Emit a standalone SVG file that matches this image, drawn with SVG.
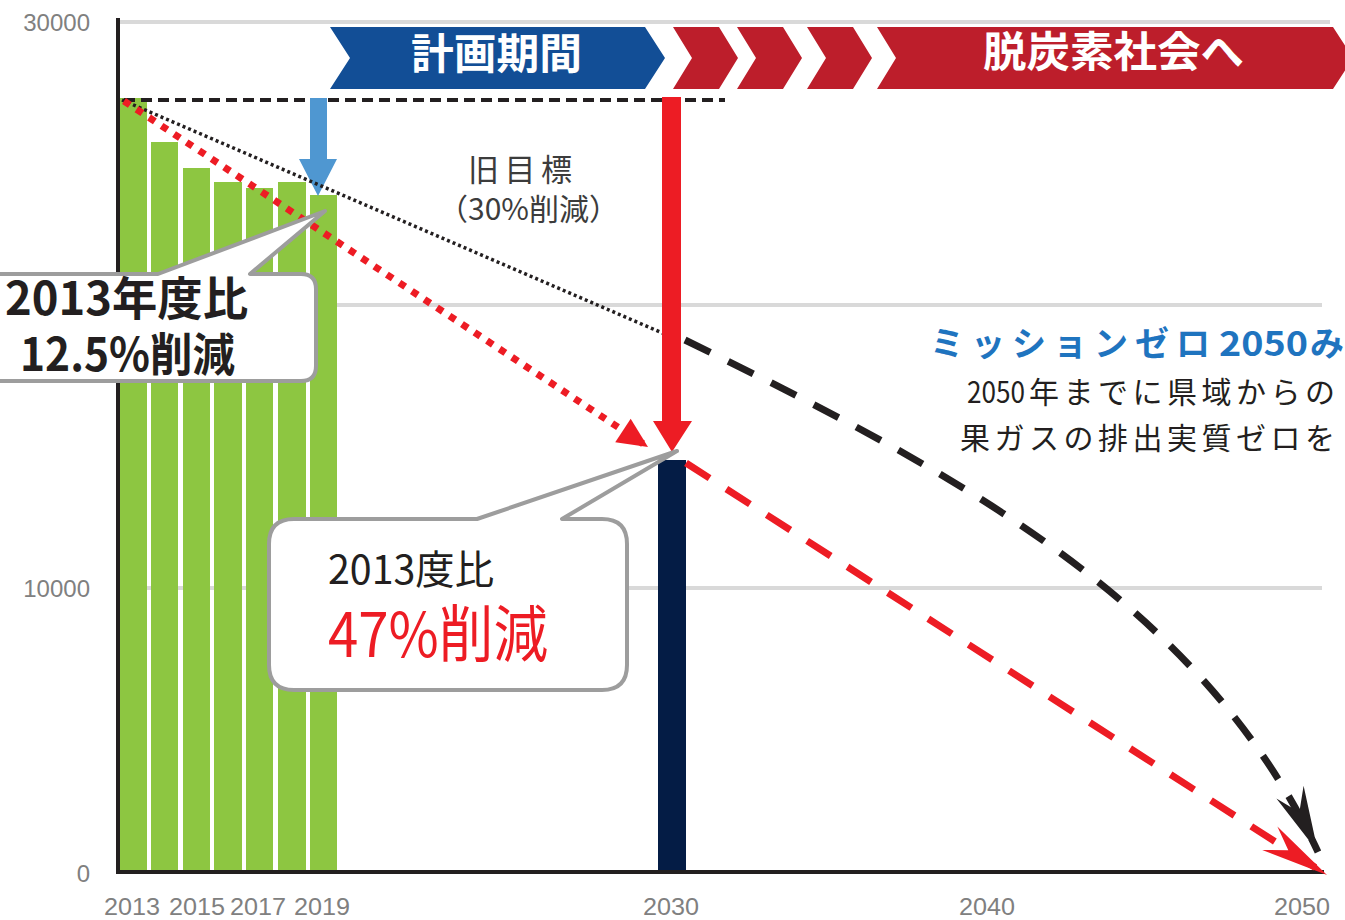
<svg xmlns="http://www.w3.org/2000/svg" width="1345" height="920" viewBox="0 0 1345 920">
<style>
.grid{stroke:#D9D9D9;stroke-width:4;fill:none}
.bar{fill:#8DC641}
.axis{stroke:#231F20;stroke-width:4;fill:none}
.lbl{font-family:"Liberation Sans",Arial,sans-serif;font-size:24px;fill:#808080}
.jp{font-family:"Noto Sans CJK JP","Noto Sans",sans-serif}
.callout{fill:#ffffff;stroke:#9D9D9D;stroke-width:4;stroke-linejoin:round}
.chev-red{fill:#BD1E2B}
.banner-txt{font-family:"Noto Sans CJK JP",sans-serif;font-weight:bold;font-size:42px;fill:#ffffff}
</style>
<defs>
<marker id="tri-red" markerUnits="userSpaceOnUse" viewBox="-32 -16 34 32" markerWidth="34" markerHeight="32" refX="0" refY="0" orient="auto">
<path d="M0,0 L-30,-14 L-30,14 Z" fill="#ED1C24"/>
</marker>
<marker id="notch-black" markerUnits="userSpaceOnUse" viewBox="-70 -18 72 36" markerWidth="72" markerHeight="36" refX="0" refY="0" orient="auto">
<path d="M0,0 L-66,-15 L-44,0 L-66,15 Z" fill="#231F20"/>
</marker>
<marker id="notch-red" markerUnits="userSpaceOnUse" viewBox="-72 -18 74 36" markerWidth="74" markerHeight="36" refX="0" refY="0" orient="auto">
<path d="M0,0 L-68,-14 L-46,0 L-68,14 Z" fill="#ED1C24"/>
</marker>
</defs>
<rect width="1345" height="920" fill="#ffffff"/>

<g id="gridlines">
<line class="grid" x1="118" y1="22" x2="1330" y2="22"/>
<line class="grid" x1="118" y1="305" x2="1322" y2="305"/>
<line class="grid" x1="118" y1="588" x2="1322" y2="588"/>
</g>

<g id="bars">
<rect class="bar" x="119" y="98" width="28" height="774"/>
<rect class="bar" x="151" y="142" width="27" height="730"/>
<rect class="bar" x="183" y="168" width="27" height="704"/>
<rect class="bar" x="214" y="182" width="28" height="690"/>
<rect class="bar" x="246" y="188" width="27" height="684"/>
<rect class="bar" x="278" y="182" width="28" height="690"/>
<rect class="bar" x="310" y="195" width="27" height="677"/>
<rect x="658" y="460" width="28" height="412" fill="#041C45"/>
</g>

<g id="axes">
<line class="axis" x1="118" y1="18" x2="118" y2="874"/>
<line class="axis" x1="116" y1="872" x2="1324" y2="872"/>
</g>

<g id="banner">
<polygon points="330,27 645,27 665,58 645,89 330,89 350,58" fill="#124E96"/>
<polygon class="chev-red" points="673,27 719,27 738,58 719,89 673,89 692,58"/>
<polygon class="chev-red" points="737,27 783,27 802,58 783,89 737,89 756,58"/>
<polygon class="chev-red" points="807,27 853,27 872,58 853,89 807,89 826,58"/>
<polygon class="chev-red" points="877,27 1333,27 1353,58 1333,89 877,89 896,58"/>
<text class="banner-txt" x="411" y="69" textLength="171" lengthAdjust="spacingAndGlyphs">計画期間</text>
<text class="banner-txt" x="983" y="67" textLength="261" lengthAdjust="spacingAndGlyphs">脱炭素社会へ</text>
</g>

<g id="connectors">
<line x1="124" y1="100" x2="725" y2="100" stroke="#231F20" stroke-width="4" stroke-dasharray="11 6"/>
<polygon id="blue-arrow" points="310,98 327,98 327,159 337,159 318,196 299,159 310,159" fill="#4F97D1"/>
<line x1="122" y1="100" x2="667" y2="335" stroke="#231F20" stroke-width="3.5" stroke-dasharray="3 3"/>
<line x1="124" y1="101" x2="648" y2="447" stroke="#ED1C24" stroke-width="7" stroke-dasharray="7 8" marker-end="url(#tri-red)"/>
<path d="M685,340 C950,470 1200,600 1318,852" fill="none" stroke="#231F20" stroke-width="7" stroke-dasharray="28 20" marker-end="url(#notch-black)"/>
<line x1="686" y1="463" x2="1327" y2="875" stroke="#ED1C24" stroke-width="7" stroke-dasharray="28 20" marker-end="url(#notch-red)"/>
<polygon id="red-arrow" points="662,97 681,97 681,421 692,421 672,452 653,421 662,421" fill="#ED1C24"/>
</g>

<g id="callout-1">
<path class="callout" d="M-20,274 L158,274 L325,211 L250,274 L301,274 Q316,274 316,289 L316,366 Q316,381 301,381 L-20,381 Z"/>
<text class="jp" font-size="46" font-weight="bold" fill="#231F20"><tspan x="5" y="315" textLength="243" lengthAdjust="spacingAndGlyphs">2013年度比</tspan><tspan x="20" y="371" textLength="215" lengthAdjust="spacingAndGlyphs">12.5%削減</tspan></text>
</g>

<g id="callout-2">
<path class="callout" d="M294,519 L477,519 L677,451 L562,519 L602,519 Q627,519 627,544 L627,665 Q627,690 602,690 L294,690 Q269,690 269,665 L269,544 Q269,519 294,519 Z"/>
<text class="jp" fill="#231F20"><tspan x="328" y="584" font-size="40" textLength="166" lengthAdjust="spacingAndGlyphs">2013度比</tspan><tspan x="328" y="657" font-size="62" fill="#ED1C24" textLength="220" lengthAdjust="spacingAndGlyphs">47%削減</tspan></text>
</g>

<g id="old-target">
<text class="jp" fill="#3C3C3C"><tspan x="468" y="181" font-size="31" textLength="104" lengthAdjust="spacing">旧目標</tspan><tspan x="438" y="220" font-size="30">（30%削減）</tspan></text>
</g>

<g id="mission-zero">
<text class="jp" x="930" y="356" font-size="34" font-weight="bold" fill="#1F74BF"><tspan letter-spacing="7">ミッションゼロ</tspan><tspan x="1219" textLength="89" lengthAdjust="spacingAndGlyphs">2050</tspan><tspan x="1310">み</tspan></text>
<text class="jp" font-size="30" fill="#231F20"><tspan x="967" y="403" textLength="58" lengthAdjust="spacingAndGlyphs">2050</tspan><tspan x="1029" y="403" letter-spacing="4.5">年までに県域からの</tspan><tspan x="960" y="449" letter-spacing="4.5">果ガスの排出実質ゼロを</tspan></text>
</g>

<g id="axis-labels">
<text class="lbl" x="90" y="31" text-anchor="end">30000</text>
<text class="lbl" x="90" y="597" text-anchor="end">10000</text>
<text class="lbl" x="90" y="882" text-anchor="end">0</text>
<text class="lbl" y="915"><tspan x="104" textLength="56" lengthAdjust="spacingAndGlyphs">2013</tspan><tspan x="169" textLength="56" lengthAdjust="spacingAndGlyphs">2015</tspan><tspan x="230" textLength="56" lengthAdjust="spacingAndGlyphs">2017</tspan><tspan x="294" textLength="56" lengthAdjust="spacingAndGlyphs">2019</tspan></text>
<text class="lbl" x="643" y="915" textLength="56" lengthAdjust="spacingAndGlyphs">2030</text>
<text class="lbl" x="959" y="915" textLength="56" lengthAdjust="spacingAndGlyphs">2040</text>
<text class="lbl" x="1274" y="915" textLength="56" lengthAdjust="spacingAndGlyphs">2050</text>
</g>
</svg>
